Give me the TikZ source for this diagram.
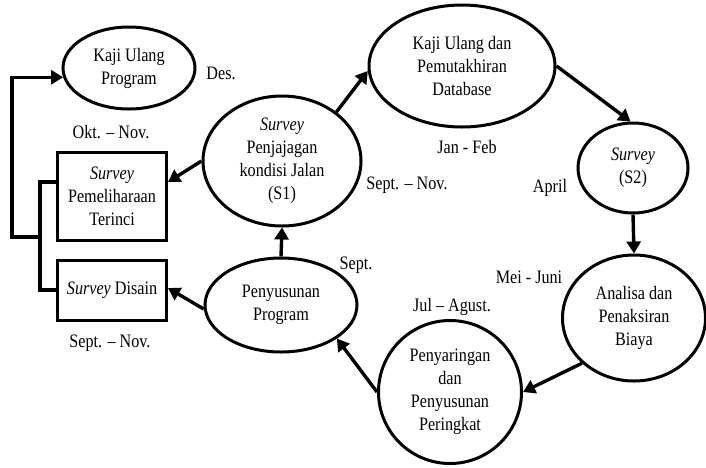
\documentclass[tikz,border=0pt]{standalone}
\usepackage{fontspec}
\setmainfont{Liberation Serif}[FakeStretch=0.85]
\usetikzlibrary{shapes.geometric,arrows.meta}
\begin{document}
\begin{tikzpicture}[x=1pt,y=-1pt,
  every node/.style={font=\fontsize{19}{23}\selectfont, align=center},
  stage/.style={ellipse, draw, line width=3pt, inner sep=0pt},
  surveybox/.style={rectangle, draw, line width=3pt, inner sep=0pt},
  flow/.style={line width=3.4pt, -{Triangle[length=12pt,width=14pt]}},
  link/.style={line width=3.4pt},
  period/.style={inner sep=0pt}]
\useasboundingbox (0,0) rectangle (706,467);

% stages of the cycle
\node[stage, minimum width=132pt, minimum height=82pt] (kp) at (129,68) {Kaji Ulang\\Program};
\node[stage, minimum width=158pt, minimum height=130pt] (s1) at (282,161) {\textit{Survey}\\Penjajagan\\kondisi Jalan\\(S1)};
\node[stage, minimum width=186pt, minimum height=122pt] (db) at (462,66) {Kaji Ulang dan\\Pemutakhiran\\Database};
\node[stage, minimum width=110pt, minimum height=90pt] (s2) at (633,168) {\textit{Survey}\\(S2)};
\node[stage, minimum width=143pt, minimum height=126pt] (an) at (634,318) {Analisa dan\\Penaksiran\\Biaya};
\node[stage, minimum width=143pt, minimum height=143pt] (ps) at (450,392) {Penyaringan\\dan\\Penyusunan\\Peringkat};
\node[stage, minimum width=152pt, minimum height=94pt] (pp) at (281,305) {Penyusunan\\Program};

% detailed surveys
\node[surveybox, minimum width=109pt, minimum height=88pt] (ra) at (112,196) {\textit{Survey}\\Pemeliharaan\\Terinci};
\node[surveybox, minimum width=109pt, minimum height=60pt] (rb) at (112,290) {\textit{Survey} Disain};

% periods
\node[period] (lDes) at (221,73) {Des.};
\node[period] (lOkt) at (111,132) {Okt. -- Nov.};
\node[period] (lSN1) at (110,343) {Sept. -- Nov.};
\node[period] (lSN2) at (407,185) {Sept. -- Nov.};
\node[period] (lJan) at (467,147) {Jan - Feb};
\node[period] (lApr) at (550,188) {April};
\node[period] (lSep) at (356,265) {Sept.};
\node[period] (lMei) at (529,277) {Mei - Juni};
\node[period] (lJul) at (452,307) {Jul -- Agust.};

% cycle
\draw[flow] (s1.42) -- (db.183);
\draw[flow] (db.east) -- (s2.93);
\draw[flow] (s2.south) -- (an.north);
\draw[flow] (an.221) -- (ps.east);
\draw[flow] (ps.west) -- (pp.-31);
\draw[flow] (pp.north) -- (s1.south);
\draw[flow] (s1.west) -- (ra.14);
\draw[flow] (pp.183) -- (rb.2);

% bracket back to programme review
\coordinate (spine) at (40,237);
\draw[link] (ra.166) -| (spine) |- (rb.west);
\draw[flow] (spine) -- (12,237) |- (kp.188);
\end{tikzpicture}
\end{document}
